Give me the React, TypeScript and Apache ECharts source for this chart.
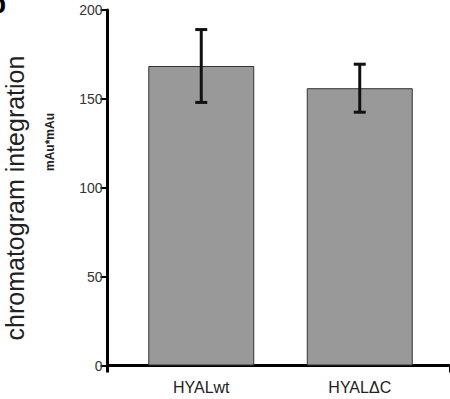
import React, { useEffect, useRef } from 'react';
import * as echarts from 'echarts';

const categories = ['HYALwt', 'HYALΔC'];
const means = [168.5, 156];
const errors = [20.5, 13.5];
const yMin = 0;
const yMax = 200;
const yInterval = 50;
const yAxisTitle = 'chromatogram integration';
const yUnit = 'mAu*mAu';
const panelLabel = 'b';

const FONT = '"Liberation Sans", Arial, Helvetica, sans-serif';

export default function App() {
  const ref = useRef<HTMLDivElement>(null);
  useEffect(() => {
    if (!ref.current) return;
    const chart = echarts.init(ref.current, null, { renderer: 'svg' });
    const errData = categories.map((c, i) => [i, means[i] - errors[i], means[i] + errors[i]]);
    const option: any = {
      animation: false,
      backgroundColor: '#ffffff',
      grid: [
        { left: 107.5, right: -40, top: 10, bottom: 33.5 },
        { left: 122, width: 317, top: 10, bottom: 33.5 },
      ],
      xAxis: [
        {
          type: 'value', gridIndex: 0, min: 0, max: 1, interval: 1,
          axisLine: { show: true, lineStyle: { color: '#000', width: 3 } },
          axisTick: { show: true, length: 7, lineStyle: { color: '#000', width: 3 } },
          axisLabel: { show: false },
          splitLine: { show: false },
        },
        {
          type: 'category', gridIndex: 1, data: categories,
          axisLine: { show: false }, axisTick: { show: false },
          axisLabel: { fontFamily: FONT, fontSize: 16, color: '#222', margin: 14 },
          splitLine: { show: false },
        },
      ],
      yAxis: [
        {
          type: 'value', gridIndex: 0, min: yMin, max: yMax, interval: yInterval,
          axisLine: { show: true, lineStyle: { color: '#000', width: 3 } },
          axisTick: { show: true, length: 7, lineStyle: { color: '#000', width: 2 } },
          axisLabel: { fontFamily: FONT, fontSize: 14, color: '#333', margin: 5 },
          splitLine: { show: false },
        },
        {
          type: 'value', gridIndex: 1, min: yMin, max: yMax, interval: yInterval, show: false,
          splitLine: { show: false },
        },
      ],
      graphic: [
        {
          type: 'text', x: 15, y: 198, rotation: Math.PI / 2,
          style: { text: yAxisTitle, font: `25px ${FONT}`, fill: '#222', align: 'center', verticalAlign: 'middle' },
        },
        {
          type: 'text', x: 50, y: 142, rotation: Math.PI / 2,
          style: { text: yUnit, font: `bold 12px ${FONT}`, fill: '#222', align: 'center', verticalAlign: 'middle' },
        },
        {
          type: 'text', x: -11, y: 17,
          style: { text: panelLabel, font: `bold 28px ${FONT}`, fill: '#000', align: 'left', verticalAlign: 'bottom' },
        },
      ],
      series: [
        {
          type: 'bar', xAxisIndex: 1, yAxisIndex: 1, data: means, barWidth: 106,
          itemStyle: { color: '#999999', borderColor: '#333', borderWidth: 1 },
        },
        {
          type: 'custom', xAxisIndex: 1, yAxisIndex: 1, data: errData, z: 10,
          renderItem: (params: any, api: any) => {
            const x = api.value(0);
            const lo = api.value(1);
            const hi = api.value(2);
            const pHi = api.coord([x, hi]);
            const pLo = api.coord([x, lo]);
            const cap = 6;
            const st = { stroke: '#111', lineWidth: 3 };
            return {
              type: 'group',
              children: [
                { type: 'line', shape: { x1: pHi[0], y1: pHi[1], x2: pLo[0], y2: pLo[1] }, style: st },
                { type: 'line', shape: { x1: pHi[0] - cap, y1: pHi[1], x2: pHi[0] + cap, y2: pHi[1] }, style: st },
                { type: 'line', shape: { x1: pLo[0] - cap, y1: pLo[1], x2: pLo[0] + cap, y2: pLo[1] }, style: st },
              ],
            };
          },
        },
      ],
    };
    chart.setOption(option);
    return () => chart.dispose();
  }, []);
  return <div ref={ref} style={{ position: 'fixed', left: 0, top: 0, width: 450, height: 399 }} />;
}
